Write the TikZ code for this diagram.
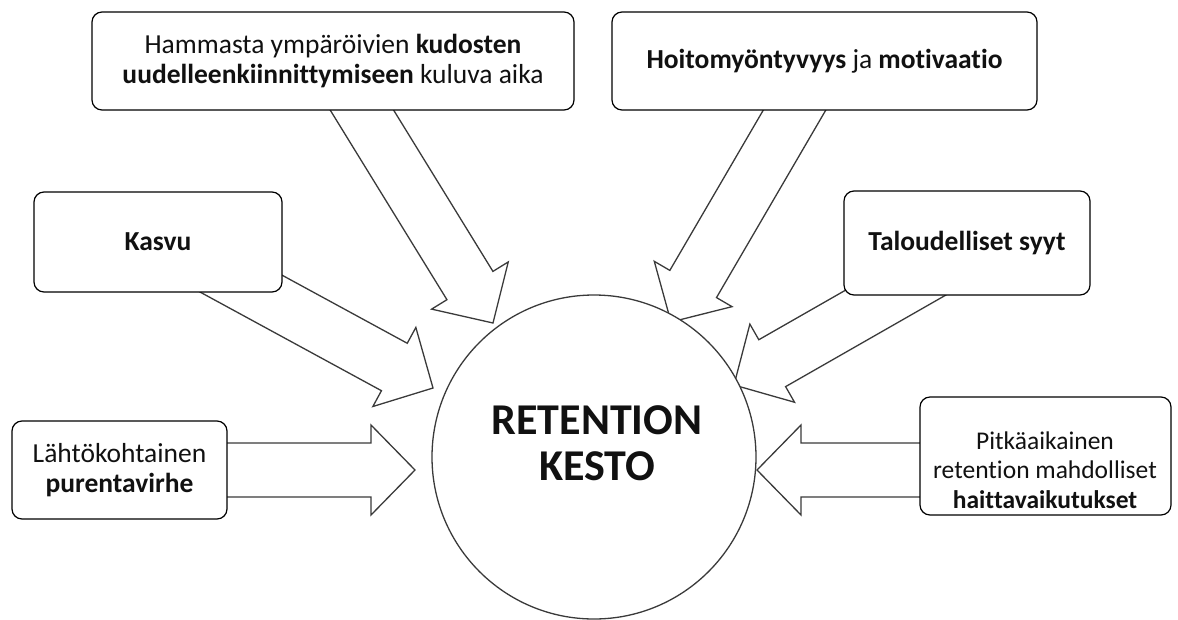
\documentclass[tikz,border=0pt]{standalone}
\usepackage{fontspec}
\setmainfont{Carlito}[Ligatures=NoCommon]
\usetikzlibrary{calc}
\definecolor{linegray}{HTML}{3A3A3A}
\definecolor{txt}{HTML}{111111}
\tikzset{
  boxstyle/.style={draw=black, line width=1.2pt, rounded corners=10pt, fill=white,
    inner sep=0pt, align=center, text=txt, font=\fontsize{27.5}{29.5}\selectfont},
  textstyle/.style={inner sep=0pt, align=center, text=txt, font=\fontsize{25.5}{29.5}\selectfont},
  arrowstyle/.style={draw=linegray, line width=1.3pt, fill=white, line join=miter},
  circstyle/.style={draw=linegray, line width=1.3pt, circle, fill=white, inner sep=0pt,
    minimum size=324pt},
  bigtext/.style={inner sep=0pt, align=center, text=txt, font=\fontsize{44}{46}\selectfont\bfseries}
}
\newcommand{\blockarr}[2]{%
  \path (#1) coordinate (ba) (#2) coordinate (bt);
  \path ($(bt)!44pt!(ba)$) coordinate (bh);
  \draw[arrowstyle] ($(ba)!27pt!90:(bt)$) -- ($(bh)!27pt!90:(bt)$) -- ($(bh)!45pt!90:(bt)$)
    -- (bt) -- ($(bh)!45pt!-90:(bt)$) -- ($(bh)!27pt!-90:(bt)$) -- ($(ba)!27pt!-90:(bt)$) -- cycle;
}
\begin{document}
\begin{tikzpicture}[x=1pt,y=-1pt]
\useasboundingbox (0,0) rectangle (1178,619);
% base and tip coordinates of the block arrows
\coordinate (b1) at (336,68);  \coordinate (t1) at (493,323);
\coordinate (b2) at (822,63);  \coordinate (t2) at (671,322);
\coordinate (b3) at (205,264); \coordinate (t3) at (433,388);
\coordinate (b4) at (951,261); \coordinate (t4) at (734,385);
\coordinate (b5) at (150,470); \coordinate (t5) at (415,470);
\coordinate (b6) at (1000,470); \coordinate (t6) at (757,470);
\blockarr{b1}{t1}
\blockarr{b2}{t2}
\blockarr{b3}{t3}
\blockarr{b4}{t4}
\blockarr{b5}{t5}
\blockarr{b6}{t6}
% boxes
\node[boxstyle, minimum width=482pt, minimum height=98pt] (kudos) at (333,61)
  {Hammasta ympäröivien \textbf{kudosten}\\ \textbf{uudelleenkiinnittymiseen} kuluva aika};
\node[boxstyle, minimum width=425pt, minimum height=98pt] (hoito) at (824.5,61)
  {\textbf{Hoitomyöntyvyys} ja \textbf{motivaatio}};
\node[boxstyle, minimum width=248pt, minimum height=100pt] (kasvu) at (158,242)
  {\textbf{Kasvu}};
\node[boxstyle, minimum width=246pt, minimum height=104pt] (talous) at (967,243)
  {\textbf{Taloudelliset syyt}};
\node[boxstyle, minimum width=215pt, minimum height=98pt] (lahto) at (119.5,470)
  {Lähtökohtainen\\ \textbf{purentavirhe}};
\node[boxstyle, minimum width=251pt, minimum height=118pt] (pitka) at (1045.5,456) {};
\node[textstyle] (pitkatext) at (1045,470)
  {Pitkäaikainen\\ retention mahdolliset\\ \textbf{haittavaikutukset}};
% centre
\node[circstyle] (ret) at (594,457) {};
\node[bigtext] (rettext) at (597,443) {RETENTION\\KESTO};
\end{tikzpicture}
\end{document}
